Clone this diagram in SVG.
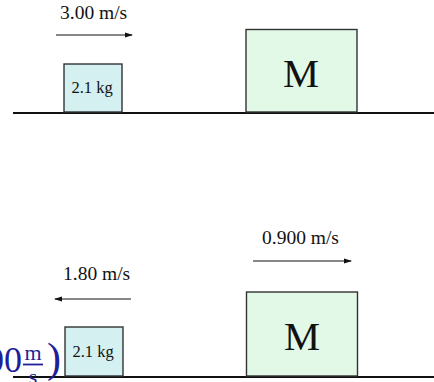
<svg xmlns="http://www.w3.org/2000/svg" width="434" height="382" viewBox="0 0 434 382">
<defs>
<marker id="ah" markerWidth="8" markerHeight="6" refX="7" refY="3" orient="auto" markerUnits="userSpaceOnUse">
<path d="M0,0.5 L8,3 L0,5.5 Z" fill="#111"/>
</marker>
<style>
.lbl{font-family:"Liberation Serif","Times New Roman",serif;fill:#111}
.v{font-size:19.5px}
.kg{font-size:16.5px;text-anchor:middle}
.M{font-size:40.5px;text-anchor:middle}
.small{fill:#d4f0f0;stroke:#333;stroke-width:1.4}
.big{fill:#e2f9e8;stroke:#333;stroke-width:1.4}
.ground{stroke:#111;stroke-width:2}
.arr{stroke:#111;stroke-width:1.2;fill:none;marker-end:url(#ah)}
.blue{font-family:"Liberation Serif","Times New Roman",serif;fill:#1f1f99}
</style>
</defs>
<rect width="434" height="382" fill="#fff"/>
<g id="connectors">
<line class="ground" x1="13" y1="113" x2="434" y2="113"/>
<line class="ground" x1="13" y1="377" x2="434" y2="377"/>
<line class="arr" x1="56" y1="35" x2="132" y2="35"/>
<line class="arr" x1="253" y1="261" x2="351" y2="261"/>
<line class="arr" x1="131" y1="299" x2="55" y2="299"/>
</g>
<g id="label-top-v"><text class="lbl v" x="60" y="19">3.00 m/s</text></g>
<g id="block-top-small">
<rect class="small" x="64" y="64" width="58" height="48"/>
<text class="lbl kg" x="92" y="93">2.1 kg</text>
</g>
<g id="block-top-big">
<rect class="big" x="246" y="29.5" width="111" height="82.5"/>
<text class="lbl M" x="301" y="87">M</text>
</g>
<g id="label-bottom-v2"><text class="lbl v" x="262" y="244">0.900 m/s</text></g>
<g id="label-bottom-v1"><text class="lbl v" x="63" y="280">1.80 m/s</text></g>
<g id="block-bottom-small">
<rect class="small" x="65" y="327" width="58" height="49"/>
<text class="lbl kg" x="93" y="357">2.1 kg</text>
</g>
<g id="block-bottom-big">
<rect class="big" x="246.5" y="292" width="111" height="84"/>
<text class="lbl M" x="302" y="350">M</text>
</g>
<g id="blue-fragment">
<text class="blue" x="22" y="372" font-size="36" text-anchor="end">00</text>
<text class="blue" x="33" y="360" font-size="22" text-anchor="middle">m</text>
<line x1="23" y1="364.5" x2="43" y2="364.5" stroke="#1f1f99" stroke-width="1.8"/>
<text class="blue" x="33" y="384" font-size="22" text-anchor="middle">s</text>
<text class="blue" x="47" y="372" font-size="42">)</text>
</g>
</svg>
